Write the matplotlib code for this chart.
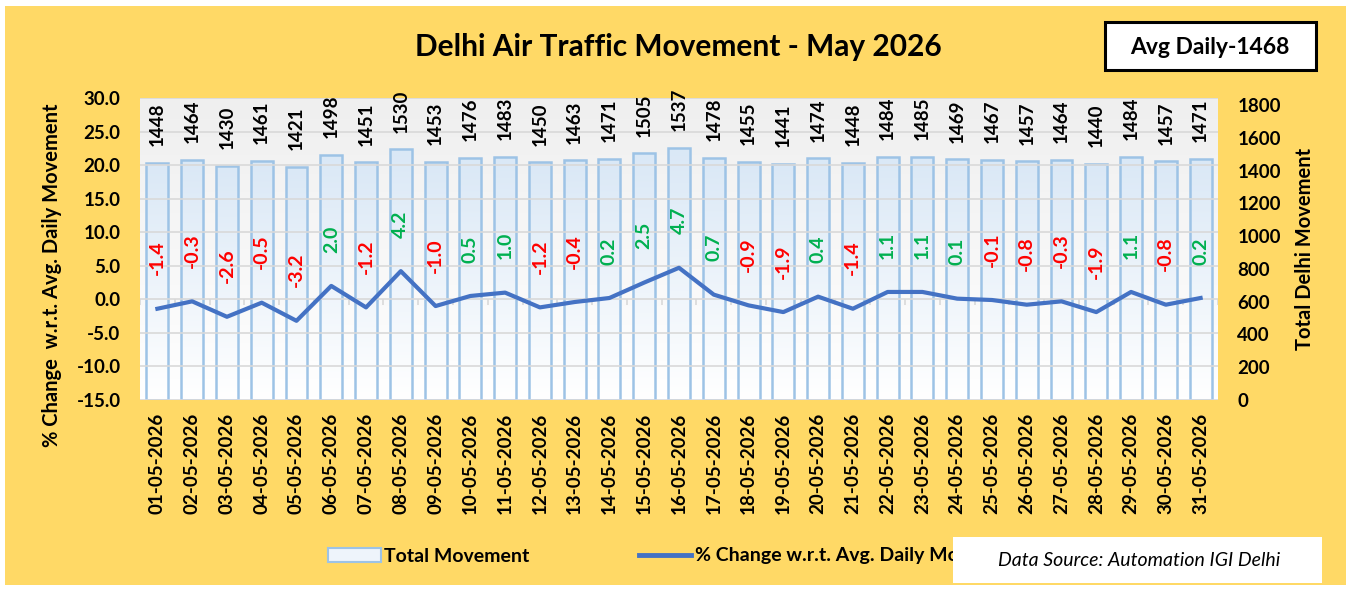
import numpy as np
import matplotlib
matplotlib.use("Agg")
import matplotlib.pyplot as plt
from matplotlib.patches import Rectangle, Patch
from matplotlib.lines import Line2D
from matplotlib.colors import LinearSegmentedColormap

# data
dates = [f"{d:02d}-05-2026" for d in range(1, 32)]
total_movement = [1448, 1464, 1430, 1461, 1421, 1498, 1451, 1530, 1453, 1476,
                  1483, 1450, 1463, 1471, 1505, 1537, 1478, 1455, 1441, 1474,
                  1448, 1484, 1485, 1469, 1467, 1457, 1464, 1440, 1484, 1457, 1471]
pct_change = [-1.4, -0.3, -2.6, -0.5, -3.2, 2.0, -1.2, 4.2, -1.0, 0.5,
              1.0, -1.2, -0.4, 0.2, 2.5, 4.7, 0.7, -0.9, -1.9, 0.4,
              -1.4, 1.1, 1.1, 0.1, -0.1, -0.8, -0.3, -1.9, 1.1, -0.8, 0.2]
avg_daily = 1468
title = "Delhi Air Traffic Movement - May 2026"

plt.rcParams['font.family'] = ['Lato', 'DejaVu Sans']
plt.rcParams['font.weight'] = 'bold'

YELLOW = "#FFD966"
BAR_EDGE = "#9DC3E6"
LINE_BLUE = "#4472C4"
RED = "#FF0000"
GREEN = "#00B050"
GRID = "#D9D9D9"

fig = plt.figure(figsize=(13.51, 5.89), dpi=100, facecolor="white")
# yellow chart area inside thin white frame
fig.patches.append(Rectangle((5 / 1351, 4 / 589), 1341 / 1351, 579 / 589,
                             transform=fig.transFigure, facecolor=YELLOW,
                             edgecolor="none", zorder=-10))

pos = [140 / 1351, 1 - 400 / 589, 1078 / 1351, 302 / 589]
ax2 = fig.add_axes(pos)                 # totals, right axis, drawn below
ax = fig.add_axes(pos, sharex=ax2)      # % change, left axis, drawn on top
ax.patch.set_visible(False)
ax.set_zorder(ax2.get_zorder() + 1)

x = np.arange(len(dates))

# plot area background gradient
grad = np.linspace(0, 1, 100).reshape(-1, 1)
bg_cmap = LinearSegmentedColormap.from_list("bg", ["#FFFFFF", "#EFEFEF"])
ax2.imshow(grad, extent=[-0.5, 30.5, 1843, 0], aspect="auto", cmap=bg_cmap, zorder=0)

# bars with vertical gradient fill
bars = ax2.bar(x, total_movement, width=0.63, facecolor="none",
               edgecolor=BAR_EDGE, linewidth=1.8, zorder=3)
bar_cmap = LinearSegmentedColormap.from_list("bar", ["#FFFFFF", "#DAE8F6"])
for b in bars:
    x0, w, h = b.get_x(), b.get_width(), b.get_height()
    im = ax2.imshow(grad, extent=[x0, x0 + w, h, 0], aspect="auto",
                    cmap=bar_cmap, zorder=2)
    im.set_clip_path(b)

# right axis in the source is not aligned with the left gridlines
ax2.set_ylim(0, 1843)
ax2.set_yticks(range(0, 2000, 200))
ax2.yaxis.tick_right()
ax2.yaxis.set_label_position("right")
ax2.set_ylabel("Total Delhi Movement", fontsize=14.5, fontweight="bold", labelpad=10)
ax2.set_xlim(-0.5, 30.5)
ax2.set_xticks(x)
ax2.set_xticklabels(dates, rotation=90, fontsize=13.5, fontweight="bold")
ax2.tick_params(axis="y", length=0, pad=14, labelsize=13.5)
ax2.tick_params(axis="x", length=0, pad=9)
for s in ax2.spines.values():
    s.set_visible(False)

# gridlines sit over the bars
for g in np.arange(-15, 31, 5):
    ax.axhline(g, color=GRID, lw=1.2, zorder=1)
ax.vlines(np.arange(-0.5, 31), -0.8, 0, color=GRID, lw=1.2, zorder=1)

# total labels go on the top axes so gridlines don't cross them
for xi, v in zip(x, total_movement):
    ax.annotate(str(v), (xi, v), xycoords=ax2.transData, xytext=(0, 12),
                textcoords="offset points", rotation=90, ha="center",
                va="bottom", fontsize=13.5, fontweight="bold",
                annotation_clip=False, zorder=6)

# % change line
ax.plot(x, pct_change, color=LINE_BLUE, lw=3, zorder=5)
for xi, v in zip(x, pct_change):
    ax.annotate(f"{v:.1f}", (xi, v), xytext=(0, 24), textcoords="offset points",
                rotation=90, ha="center", va="bottom", fontsize=14,
                fontweight="bold", color=RED if v < 0 else GREEN, zorder=6)

ax.set_ylim(-15, 30)
ax.set_yticks(np.arange(-15, 31, 5))
ax.set_yticklabels([f"{t:.1f}" for t in np.arange(-15, 31, 5)])
ax.set_ylabel("% Change  w.r.t. Avg. Daily Movement", fontsize=14.5,
              fontweight="bold")
ax.yaxis.set_label_coords(-0.072, 0.414)
ax.tick_params(axis="y", length=0, pad=14, labelsize=13.5)
ax.tick_params(axis="x", length=0, labelbottom=False)
for s in ax.spines.values():
    s.set_visible(False)

fig.text(678 / 1351, 1 - 47 / 589, title, ha="center", va="center",
         fontsize=21.5, fontweight="bold")
fig.text(1210 / 1351, 1 - 47 / 589, f"Avg Daily-{avg_daily}", ha="center",
         va="center", fontsize=16.5, fontweight="bold")
fig.patches.append(Rectangle((1105 / 1351, 1 - 70 / 589), 211 / 1351, 48 / 589,
                             transform=fig.transFigure, facecolor="white",
                             edgecolor="black", lw=2.2, zorder=-5))

handles = [Patch(facecolor="#EEF4FB", edgecolor=BAR_EDGE, lw=1.5),
           Line2D([], [], color=LINE_BLUE, lw=3.5)]
fig.legend(handles, ["Total Movement", "% Change w.r.t. Avg. Daily Movement"],
           loc="center left", bbox_to_anchor=(328 / 1351, 1 - 556 / 589), ncol=2,
           frameon=False, handlelength=2.7, handletextpad=0.2, borderpad=0,
           borderaxespad=0, columnspacing=5.6, prop={"weight": "bold", "size": 14})

# data source box covers the end of the legend
fig.patches.append(Rectangle((953 / 1351, 1 - 583 / 589), 369 / 1351, 46 / 589,
                             transform=fig.transFigure, facecolor="white",
                             edgecolor="none", zorder=10))
fig.text(1139 / 1351, 1 - 561 / 589, "Data Source: Automation IGI Delhi",
         ha="center", va="center", fontsize=14, fontstyle="italic",
         fontweight="normal", zorder=11)

fig.savefig("out.png", dpi=100, facecolor=fig.get_facecolor())
